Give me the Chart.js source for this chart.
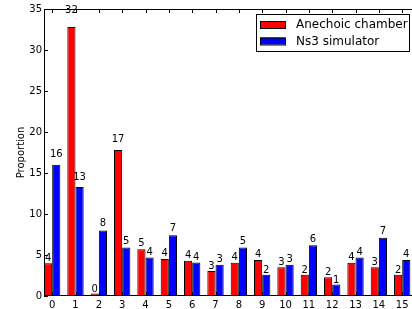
<!DOCTYPE html>
<html>
<head>
<meta charset="utf-8">
<script src="https://cdn.jsdelivr.net/npm/chart.js@4.4.0/dist/chart.umd.min.js"></script>
<style>
  html, body { margin: 0; padding: 0; background: #fff; }
</style>
</head>
<body>
<canvas id="chart" width="412" height="309"></canvas>
<script>
var categories = ['0', '1', '2', '3', '4', '5', '6', '7', '8', '9', '10', '11', '12', '13', '14', '15'];
var anechoic = [4.0, 32.8, 0.3, 17.8, 5.7, 4.5, 4.3, 3.05, 4.05, 4.4, 3.5, 2.6, 2.3, 4.05, 3.5, 2.6];
var ns3 = [16.0, 13.3, 8.0, 5.9, 4.7, 7.4, 4.1, 3.8, 5.9, 2.6, 3.8, 6.2, 1.4, 4.7, 7.1, 4.4];
var yTicks = [0, 5, 10, 15, 20, 25, 30, 35];

var FONT = 'DejaVu Sans';

function points(values) {
  return values.map(function (v, i) { return { x: i, y: v }; });
}

// matplotlib style frame with inward ticks (right spine falls outside the picture)
var framePlugin = {
  id: 'frame',
  afterDatasetsDraw: function (chart) {
    var ctx = chart.ctx, a = chart.chartArea;
    var xs = chart.scales.x, ys = chart.scales.y;
    ctx.save();
    ctx.strokeStyle = '#000';
    ctx.lineWidth = 1;
    ctx.beginPath();
    categories.forEach(function (c, i) {
      var px = Math.round(xs.getPixelForValue(i)) + 0.5;
      ctx.moveTo(px, a.bottom); ctx.lineTo(px, a.bottom - 4);
      ctx.moveTo(px, a.top); ctx.lineTo(px, a.top + 4);
    });
    yTicks.forEach(function (t) {
      var py = Math.round(ys.getPixelForValue(t)) + 0.5;
      ctx.moveTo(a.left, py); ctx.lineTo(a.left + 4, py);
    });
    ctx.moveTo(a.left + 0.5, a.top + 0.5); ctx.lineTo(a.right, a.top + 0.5);
    ctx.moveTo(a.left + 0.5, a.top); ctx.lineTo(a.left + 0.5, a.bottom);
    ctx.moveTo(a.left, a.bottom - 0.5); ctx.lineTo(a.right, a.bottom - 0.5);
    ctx.stroke();
    ctx.restore();
  }
};

// integer labels above every bar
var valueLabels = {
  id: 'valueLabels',
  afterDatasetsDraw: function (chart) {
    var ctx = chart.ctx, ys = chart.scales.y;
    ctx.save();
    ctx.font = '10px "' + FONT + '"';
    ctx.fillStyle = '#000';
    ctx.textAlign = 'center';
    ctx.textBaseline = 'alphabetic';
    chart.data.datasets.forEach(function (ds, d) {
      chart.getDatasetMeta(d).data.forEach(function (bar, i) {
        var v = ds.data[i].y;
        ctx.fillText(String(Math.floor(v)), bar.x, ys.getPixelForValue(1.05 * v) - 1);
      });
    });
    ctx.restore();
  }
};

// legend box in the upper right corner of the plot
var boxLegend = {
  id: 'boxLegend',
  afterDraw: function (chart) {
    var ctx = chart.ctx, a = chart.chartArea;
    var w = 154, h = 37;
    var x0 = a.right - 2 - w, y0 = a.top + 5;
    ctx.save();
    ctx.fillStyle = '#fff';
    ctx.fillRect(x0, y0, w, h);
    ctx.strokeStyle = '#000';
    ctx.lineWidth = 1;
    ctx.strokeRect(x0 + 0.5, y0 + 0.5, w - 1, h);
    ctx.font = '12px "' + FONT + '"';
    ctx.textAlign = 'left';
    ctx.textBaseline = 'middle';
    chart.data.datasets.forEach(function (ds, d) {
      var sy = y0 + 7 + d * 16.5;
      ctx.fillStyle = ds.backgroundColor;
      ctx.fillRect(x0 + 4, sy, 25, 7);
      ctx.strokeRect(x0 + 4.5, sy + 0.5, 25, 7);
      ctx.fillStyle = '#000';
      ctx.fillText(ds.label, x0 + 40, sy + 4);
    });
    ctx.restore();
  }
};

new Chart(document.getElementById('chart'), {
  type: 'bar',
  data: {
    datasets: [
      {
        label: 'Anechoic chamber',
        data: points(anechoic),
        backgroundColor: '#ff0000',
        borderColor: '#000',
        borderWidth: 1,
        categoryPercentage: 0.7,
        barPercentage: 1.0
      },
      {
        label: 'Ns3 simulator',
        data: points(ns3),
        backgroundColor: '#0000ff',
        borderColor: '#000',
        borderWidth: 1,
        categoryPercentage: 0.7,
        barPercentage: 1.0
      }
    ]
  },
  options: {
    responsive: false,
    animation: false,
    devicePixelRatio: 1,
    layout: { padding: { top: 9, right: 0, left: 0, bottom: 0 } },
    plugins: {
      legend: { display: false },
      tooltip: { enabled: false }
    },
    scales: {
      x: {
        type: 'linear',
        min: -0.35,
        max: 15.42,
        offset: false,
        grid: { display: false, drawTicks: false, offset: false },
        border: { display: false },
        afterBuildTicks: function (scale) {
          scale.ticks = categories.map(function (c, i) { return { value: i }; });
        },
        afterFit: function (scale) { scale.height = 13; },
        ticks: {
          autoSkip: false,
          maxRotation: 0,
          padding: 3,
          color: '#000',
          font: { family: FONT, size: 10 },
          callback: function (v) { return categories[v]; }
        }
      },
      y: {
        min: 0,
        max: 35,
        grid: { display: false, drawTicks: false },
        border: { display: false },
        afterFit: function (scale) { scale.width = 44; },
        ticks: {
          stepSize: 5,
          padding: 2,
          color: '#000',
          font: { family: FONT, size: 10 }
        },
        title: {
          display: true,
          text: 'Proportion',
          color: '#000',
          padding: { top: 15, bottom: 0 },
          font: { family: FONT, size: 10 }
        }
      }
    }
  },
  plugins: [valueLabels, framePlugin, boxLegend]
});
</script>
</body>
</html>
